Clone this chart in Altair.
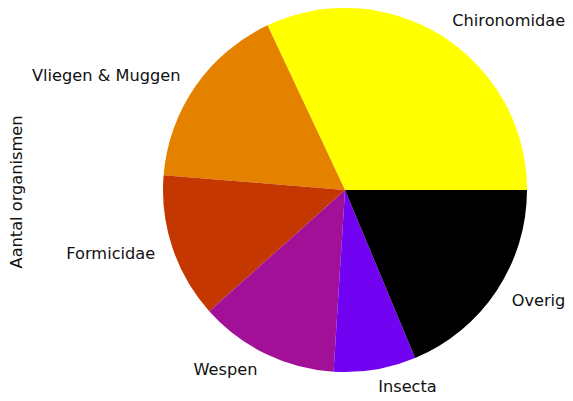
import altair as alt
import pandas as pd

labels = ["Chironomidae", "Vliegen & Muggen", "Formicidae", "Wespen", "Insecta", "Overig"]
values = [32.0, 16.7, 12.9, 12.4, 7.3, 18.7]
colors = ["#ffff00", "#e48200", "#c53700", "#a11096", "#7202f2", "#000000"]
ylabel = "Aantal organismen"

df = pd.DataFrame({"label": labels, "value": values, "idx": list(range(len(labels)))})

PI = 3.141592653589793
CX, CY, R = 337, 182, 182

theta = alt.Theta("value:Q", stack=True, scale=alt.Scale(range=[PI / 2, PI / 2 - 2 * PI]))
order = alt.Order("idx:Q", sort="ascending")
color = alt.Color("label:N", scale=alt.Scale(domain=labels, range=colors), legend=None)

base = alt.Chart(df).transform_window(
    cum="sum(value)", sort=[alt.SortField("idx")], frame=[None, 0]
).transform_joinaggregate(total="sum(value)").transform_calculate(
    side="cos((datum.cum - datum.value/2) / datum.total * 2 * PI) >= 0 ? 'left' : 'right'",
)

pie = base.mark_arc(outerRadius=R, x=CX, y=CY, strokeWidth=0).encode(
    theta=theta, order=order, color=color
)

font = dict(font="DejaVu Sans", fontSize=16.2, color="#111111", baseline="middle")

lab_left = base.mark_text(radius=R * 1.1, x=CX, y=CY, align="left", **font).encode(
    theta=theta, order=order,
    text=alt.condition("datum.side == 'left'", "label:N", alt.value("")),
)
lab_right = base.mark_text(radius=R * 1.1, x=CX, y=CY, align="right", **font).encode(
    theta=theta, order=order,
    text=alt.condition("datum.side == 'right'", "label:N", alt.value("")),
)

ytitle = alt.Chart(pd.DataFrame({"t": [ylabel]})).mark_text(
    angle=270, align="center", **font
).encode(text="t:N", x=alt.value(9), y=alt.value(CY + 2))

chart = alt.layer(pie, lab_left, lab_right, ytitle).properties(
    width=557, height=389, padding=0, autosize=alt.AutoSizeParams(type="none")
).configure_view(stroke=None)

chart.save("out.html", embed_options={"renderer": "svg", "actions": False})
